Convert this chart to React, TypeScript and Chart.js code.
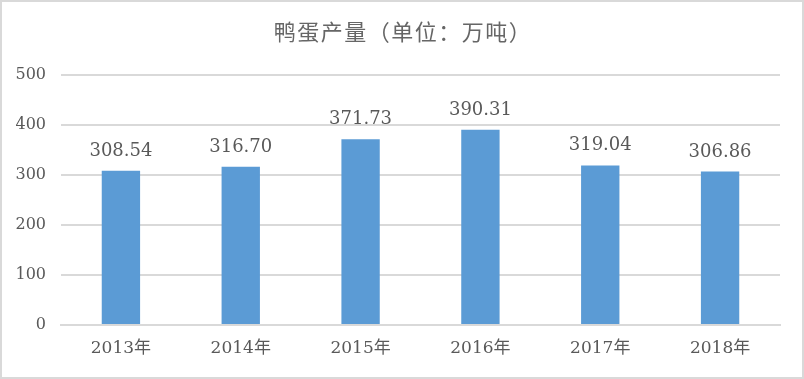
import React, { useEffect, useRef } from "react";
import { Chart, registerables } from "chart.js";

Chart.register(...registerables);

const categories = ["2013年", "2014年", "2015年", "2016年", "2017年", "2018年"];
const values = [308.54, 316.7, 371.73, 390.31, 319.04, 306.86];
const titleText = "鸭蛋产量（单位：万吨）";
const yMin = 0;
const yMax = 500;
const yStep = 100;

const TEXT = "#595959";
const GRID = "#D9D9D9";
const BAR = "#5B9BD5";

const framePlugin = {
  id: "frame",
  beforeDraw(chart: any) {
    const { ctx, width, height } = chart;
    ctx.save();
    ctx.fillStyle = "#ffffff";
    ctx.fillRect(0, 0, width, height);
    ctx.strokeStyle = GRID;
    ctx.lineWidth = 2;
    ctx.strokeRect(1, 1, width - 2, height - 2);
    ctx.fillStyle = "#666666";
    ctx.font = "22px 'Noto Sans CJK SC', 'DejaVu Sans'";
    try {
      (ctx as any).letterSpacing = "1.5px";
    } catch (e) {}
    ctx.textAlign = "center";
    ctx.textBaseline = "middle";
    ctx.fillText(titleText, width / 2 + 1, 32);
    try {
      (ctx as any).letterSpacing = "0px";
    } catch (e) {}
    ctx.restore();
  },
};

const labelPlugin = {
  id: "barLabels",
  afterDatasetsDraw(chart: any) {
    const { ctx } = chart;
    const meta = chart.getDatasetMeta(0);
    ctx.save();
    ctx.fillStyle = TEXT;
    ctx.font = "18px 'DejaVu Serif'";
    ctx.textAlign = "center";
    ctx.textBaseline = "alphabetic";
    meta.data.forEach((bar: any, i: number) => {
      const v = chart.data.datasets[0].data[i] as number;
      ctx.fillText(v.toFixed(2), bar.x, bar.y - 15);
    });
    ctx.restore();
  },
};

export default function App() {
  const ref = useRef<HTMLCanvasElement | null>(null);
  useEffect(() => {
    if (!ref.current) return;
    const chart = new Chart(ref.current, {
      type: "bar",
      data: {
        labels: categories,
        datasets: [
          {
            data: values,
            backgroundColor: BAR,
            barPercentage: 0.32,
            categoryPercentage: 1,
          },
        ],
      },
      options: {
        animation: false,
        responsive: false,
        devicePixelRatio: 1,
        layout: { padding: { left: 0, right: 24, top: 75, bottom: 0 } },
        plugins: {
          legend: { display: false },
          title: { display: false },
          tooltip: { enabled: false },
        },
        scales: {
          x: {
            grid: { display: false, drawTicks: false },
            border: { display: true, color: GRID, width: 2 },
            ticks: {
              color: TEXT,
              font: { family: "'DejaVu Serif', 'Noto Sans CJK SC'", size: 17 },
              padding: 13,
            },
            afterFit(scale: any) {
              scale.height = 54;
            },
          },
          y: {
            min: yMin,
            max: yMax,
            grid: { color: GRID, lineWidth: 2, drawTicks: false },
            border: { display: false },
            ticks: {
              stepSize: yStep,
              color: TEXT,
              font: { family: "'DejaVu Serif'", size: 16 },
              padding: 15,
            },
            afterFit(scale: any) {
              scale.width = 61;
            },
          },
        },
      },
      plugins: [framePlugin, labelPlugin],
    });
    return () => chart.destroy();
  }, []);
  return (
    <div style={{ position: "absolute", left: 0, top: 0, width: 804, height: 379 }}>
      <canvas ref={ref} width={804} height={379} style={{ display: "block" }} />
    </div>
  );
}
